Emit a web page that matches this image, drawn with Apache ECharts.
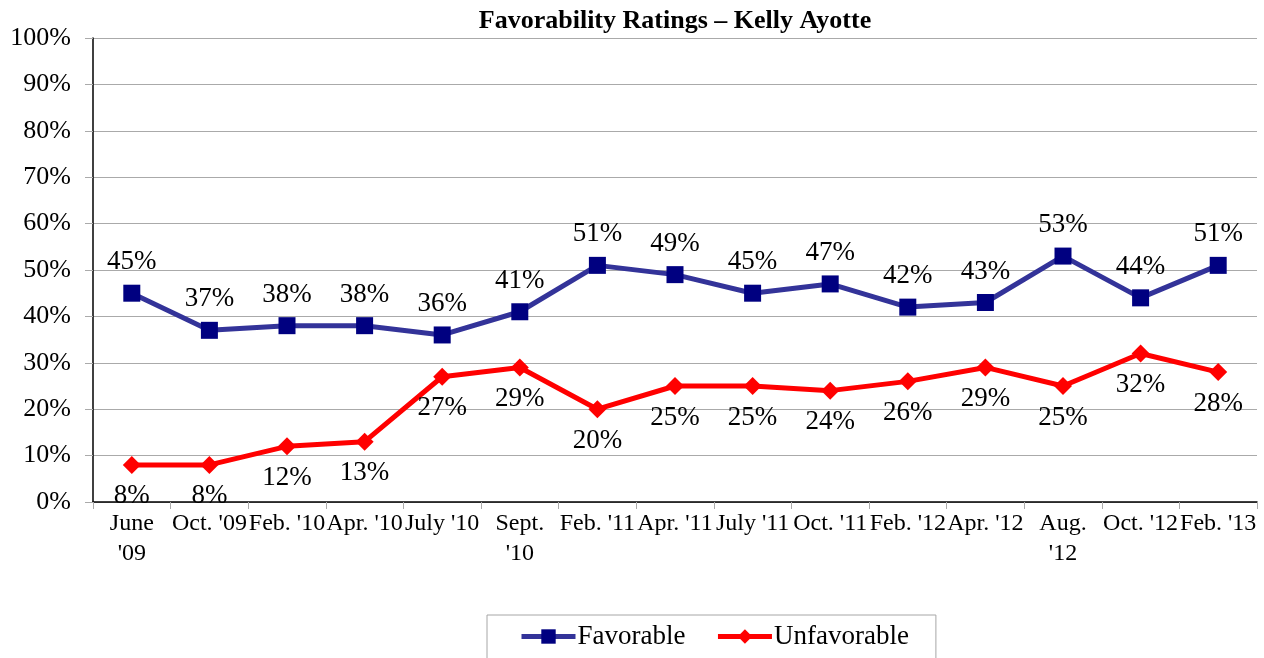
<html>
<head>
<meta charset="UTF-8" />
<title>Favorability Ratings</title>
<script src="https://cdn.jsdelivr.net/npm/echarts@6/dist/echarts.min.js"></script>
</head>
<body style="margin:0">
<div id="main" style="width:1264px;height:658px;"></div>
<script type="text/javascript">
var categories = ["June\n'09", "Oct. '09", "Feb. '10", "Apr. '10", "July '10", "Sept.\n'10", "Feb. '11", "Apr. '11", "July '11", "Oct. '11", "Feb. '12", "Apr. '12", "Aug.\n'12", "Oct. '12", "Feb. '13"];
var favorable = [45, 37, 38, 38, 36, 41, 51, 49, 45, 47, 42, 43, 53, 44, 51];
var unfavorable = [8, 8, 12, 13, 27, 29, 20, 25, 25, 24, 26, 29, 25, 32, 28];

var serif = "'Liberation Serif', 'DejaVu Serif', serif";
var myChart = echarts.init(document.getElementById('main'));

var option = {
    animation: false,
    title: {
        text: 'Favorability Ratings \u2013 Kelly Ayotte',
        left: 670,
        textAlign: 'center',
        top: 3,
        textStyle: { fontFamily: serif, fontSize: 26, fontWeight: 'bold', color: '#000' }
    },
    grid: { left: 93, right: 7, top: 38, bottom: 156, containLabel: false },
    legend: {
        bottom: -12,
        left: 487,
        padding: [8, 27, 20, 32],
        borderColor: '#a6a6a6',
        borderWidth: 1,
        itemWidth: 54,
        itemHeight: 18,
        itemGap: 30,
        lineStyle: { width: 5 },
        textStyle: { fontFamily: serif, fontSize: 27, color: '#000', padding: [0, 0, 0, -3] },
        data: ['Favorable', 'Unfavorable']
    },
    xAxis: {
        type: 'category',
        data: categories,
        boundaryGap: true,
        axisLine: { lineStyle: { color: '#000', width: 1.5 } },
        axisTick: { show: true, length: 7, lineStyle: { color: '#aaa' } },
        axisLabel: { fontFamily: serif, fontSize: 24, color: '#000', margin: 7, lineHeight: 30, interval: 0 }
    },
    yAxis: {
        type: 'value',
        min: 0,
        max: 100,
        interval: 10,
        axisLine: { show: true, lineStyle: { color: '#000', width: 1.5 } },
        axisTick: { show: true, length: 8, lineStyle: { color: '#aaa' } },
        splitLine: { lineStyle: { color: '#aaa' } },
        axisLabel: { fontFamily: serif, fontSize: 26, color: '#000', margin: 22, formatter: '{value}%' }
    },
    series: [
        {
            name: 'Favorable',
            type: 'line',
            data: favorable,
            symbol: 'rect',
            symbolSize: 17,
            lineStyle: { color: '#333399', width: 5 },
            itemStyle: { color: '#000080' },
            label: { show: true, position: 'top', distance: 9, formatter: '{c}%', fontFamily: serif, fontSize: 27, color: '#000' }
        },
        {
            name: 'Unfavorable',
            type: 'line',
            data: unfavorable,
            symbol: 'diamond',
            symbolSize: 18,
            lineStyle: { color: '#ff0000', width: 5 },
            itemStyle: { color: '#ff0000' },
            label: { show: true, position: 'bottom', distance: 9, formatter: '{c}%', fontFamily: serif, fontSize: 27, color: '#000' }
        }
    ]
};

myChart.setOption(option);
</script>
</body>
</html>
